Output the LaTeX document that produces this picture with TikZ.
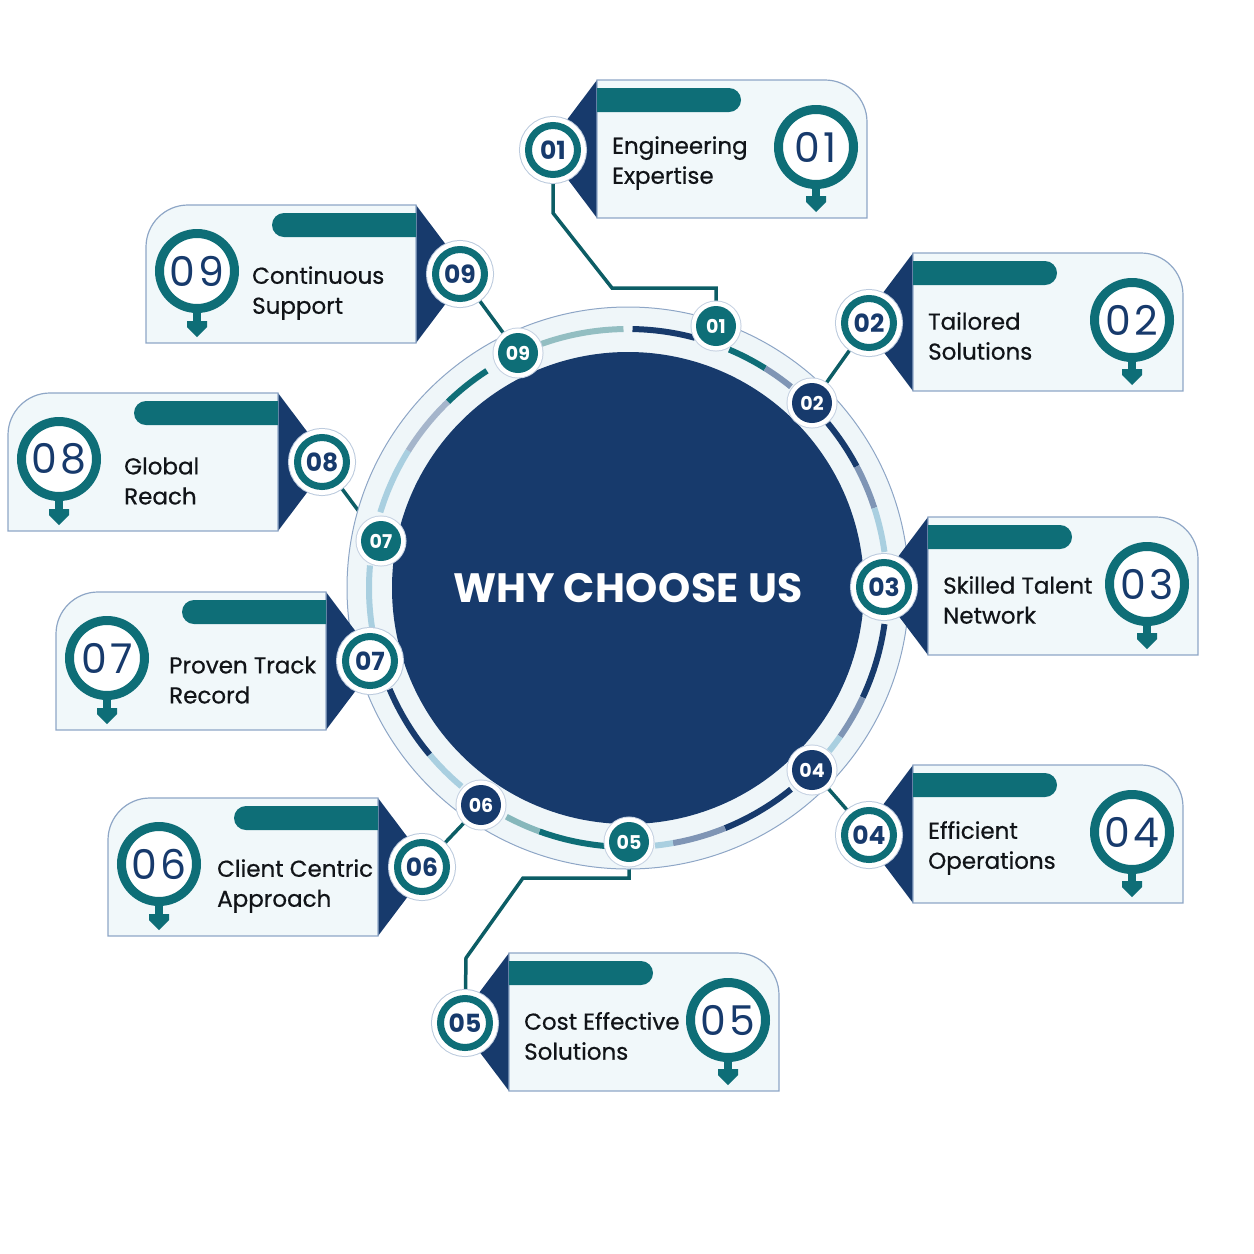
\documentclass[tikz,border=0pt]{standalone}
\usepackage{fontspec}
\setmainfont{Poppins}
\usepackage{xcolor}
\usepackage{tikz}
\usetikzlibrary{backgrounds}

\definecolor{navy}{HTML}{173A6C}
\definecolor{petrol}{HTML}{0E6E77}
\definecolor{cardfill}{HTML}{F1F8FA}
\definecolor{cardline}{HTML}{8EA6C6}
\definecolor{bandfill}{HTML}{EFF6F9}
\definecolor{paleblue}{HTML}{A9CFE0}
\definecolor{greyblue}{HTML}{7F95B5}
\definecolor{inktext}{HTML}{111418}

\begin{document}
\begin{tikzpicture}[x=1pt, y=-1pt]
    % Define the style for the nodes
    \tikzstyle{card} = [draw=cardline, line width=1.2pt, fill=cardfill]
    \tikzstyle{smallnum} = [circle, minimum size=49pt, inner sep=0pt, fill=white, draw=petrol, line width=7pt, text=navy, font=\fontsize{25}{25}\selectfont\bfseries, preaction={draw=cardline!60, line width=19pt}, preaction={draw=white, line width=17pt}]
    \tikzstyle{ringnum} = [circle, minimum size=40pt, inner sep=0pt, text=white, font=\fontsize{19}{19}\selectfont\bfseries, preaction={draw=cardline!50, line width=11pt}, preaction={draw=white, line width=9pt}]
    \tikzstyle{bignum} = [circle, minimum size=75pt, inner sep=0pt, fill=white, draw=petrol, line width=9pt, text=navy, font=\fontsize{41}{41}\selectfont\addfontfeature{LetterSpace=8}]
    \tikzstyle{cardtext} = [anchor=west, align=left, inner sep=0pt, text=inktext, font=\fontsize{23}{30}\selectfont\addfontfeature{FakeBold=0.6}]
    \tikzstyle{link} = [draw=petrol!85!black, line width=3.5pt]
    \tikzstyle{track} = [line width=6pt]

    \useasboundingbox (0,0) rectangle (1254,1254);

    % The ring and the centre
    \fill[bandfill, draw=cardline, line width=1pt] (628,588) circle (281);
    \fill[navy] (628,588) circle (236);
    \foreach \a/\b/\c in {250/269/petrol!45, 271/285/navy, 293/302/petrol, 302/309/greyblue,
        320/332/navy, 332/342/greyblue, 342/352/paleblue, 8/25/navy, 25/35/greyblue, 35/39/paleblue,
        51/68/navy, 68/80/greyblue, 80/84/paleblue, 95/110/petrol, 110/118/petrol!50,
        130/140/paleblue, 140/157/navy, 170/185/paleblue, 197/212/paleblue, 212/226/greyblue!70, 226/237/petrol}
        \draw[track, \c] (628,588) ++(\a:259) arc[start angle=\a, end angle=\b, radius=259];
    \node[text=white, font=\fontsize{41}{41}\selectfont\bfseries\addfontfeature{LetterSpace=1}] (title) at (628,588) {WHY CHOOSE US};

    % Cards on the right
    \foreach \n/\lx/\ty/\one/\two in {01/597/80/Engineering/Expertise, 02/913/253/Tailored/Solutions,
        03/928/517/Skilled Talent/Network, 04/913/765/Efficient/Operations, 05/509/953/Cost Effective/Solutions} {
        \fill[navy] (\lx,\ty) -- (\lx-52,\ty+69) -- (\lx,\ty+138) -- cycle;
        \path[card] (\lx,\ty+138) -- (\lx,\ty) -- (\lx+228,\ty) arc[start angle=-90, end angle=0, radius=42] -- (\lx+270,\ty+138) -- cycle;
        \fill[petrol] (\lx,\ty+8) -- (\lx+132,\ty+8) arc[start angle=-90, end angle=90, radius=12] -- (\lx,\ty+32) -- cycle;
        \fill[petrol] (\lx+215,\ty+105) rectangle (\lx+223,\ty+120);
        \fill[petrol] (\lx+209,\ty+116) -- (\lx+229,\ty+116) -- (\lx+229,\ty+122) -- (\lx+219,\ty+132) -- (\lx+209,\ty+122) -- cycle;
        \node[bignum] (b\n) at (\lx+219,\ty+67) {\n};
        \node[smallnum] (s\n) at (\lx-44,\ty+70) {\n};
        \node[cardtext] (t\n) at (\lx+15,\ty+83) {\one\\\two};
    }

    % Cards on the left
    \foreach \n/\lx/\ty/\dx/\one/\two in {09/146/205/106/Continuous/Support, 08/8/393/116/Global/Reach,
        07/56/592/113/Proven Track/Record, 06/108/798/109/Client Centric/Approach} {
        \fill[navy] (\lx+270,\ty) -- (\lx+322,\ty+69) -- (\lx+270,\ty+138) -- cycle;
        \path[card] (\lx+270,\ty+138) -- (\lx+270,\ty) -- (\lx+42,\ty) arc[start angle=-90, end angle=-180, radius=42] -- (\lx,\ty+138) -- cycle;
        \fill[petrol] (\lx+270,\ty+8) -- (\lx+138,\ty+8) arc[start angle=-90, end angle=-270, radius=12] -- (\lx+270,\ty+32) -- cycle;
        \fill[petrol] (\lx+47,\ty+105) rectangle (\lx+55,\ty+120);
        \fill[petrol] (\lx+41,\ty+116) -- (\lx+61,\ty+116) -- (\lx+61,\ty+122) -- (\lx+51,\ty+132) -- (\lx+41,\ty+122) -- cycle;
        \node[bignum] (b\n) at (\lx+51,\ty+66) {\n};
        \node[smallnum] (s\n) at (\lx+314,\ty+69) {\n};
        \node[cardtext] (t\n) at (\lx+\dx,\ty+88) {\one\\\two};
    }

    % Place the ring points
    \node[ringnum, fill=petrol] (r01) at (716,326) {01};
    \node[ringnum, fill=navy] (r02) at (812,403) {02};
    \node[ringnum, fill=navy] (r04) at (812,770) {04};
    \node[ringnum, fill=petrol] (r05) at (629,842) {05};
    \node[ringnum, fill=navy] (r06) at (481,805) {06};
    \node[ringnum, fill=petrol] (r07) at (381,541) {07};
    \node[ringnum, fill=petrol] (r09) at (518,353) {09};

    % Connect the nodes with paths
    \begin{pgfonlayer}{background}
        \draw[link] (r01) -- (716,288) -- (612,288) -- (553,213) -- (s01);
        \draw[link] (r02) -- (s02);
        \draw[link] (r04) -- (s04);
        \draw[link] (r05) -- (629,878) -- (523,878) -- (466,958) -- (s05);
        \draw[link] (r06) -- (s06);
        \draw[link] (r07) -- (s08);
        \draw[link] (r09) -- (s09);
    \end{pgfonlayer}
\end{tikzpicture}
\end{document}
